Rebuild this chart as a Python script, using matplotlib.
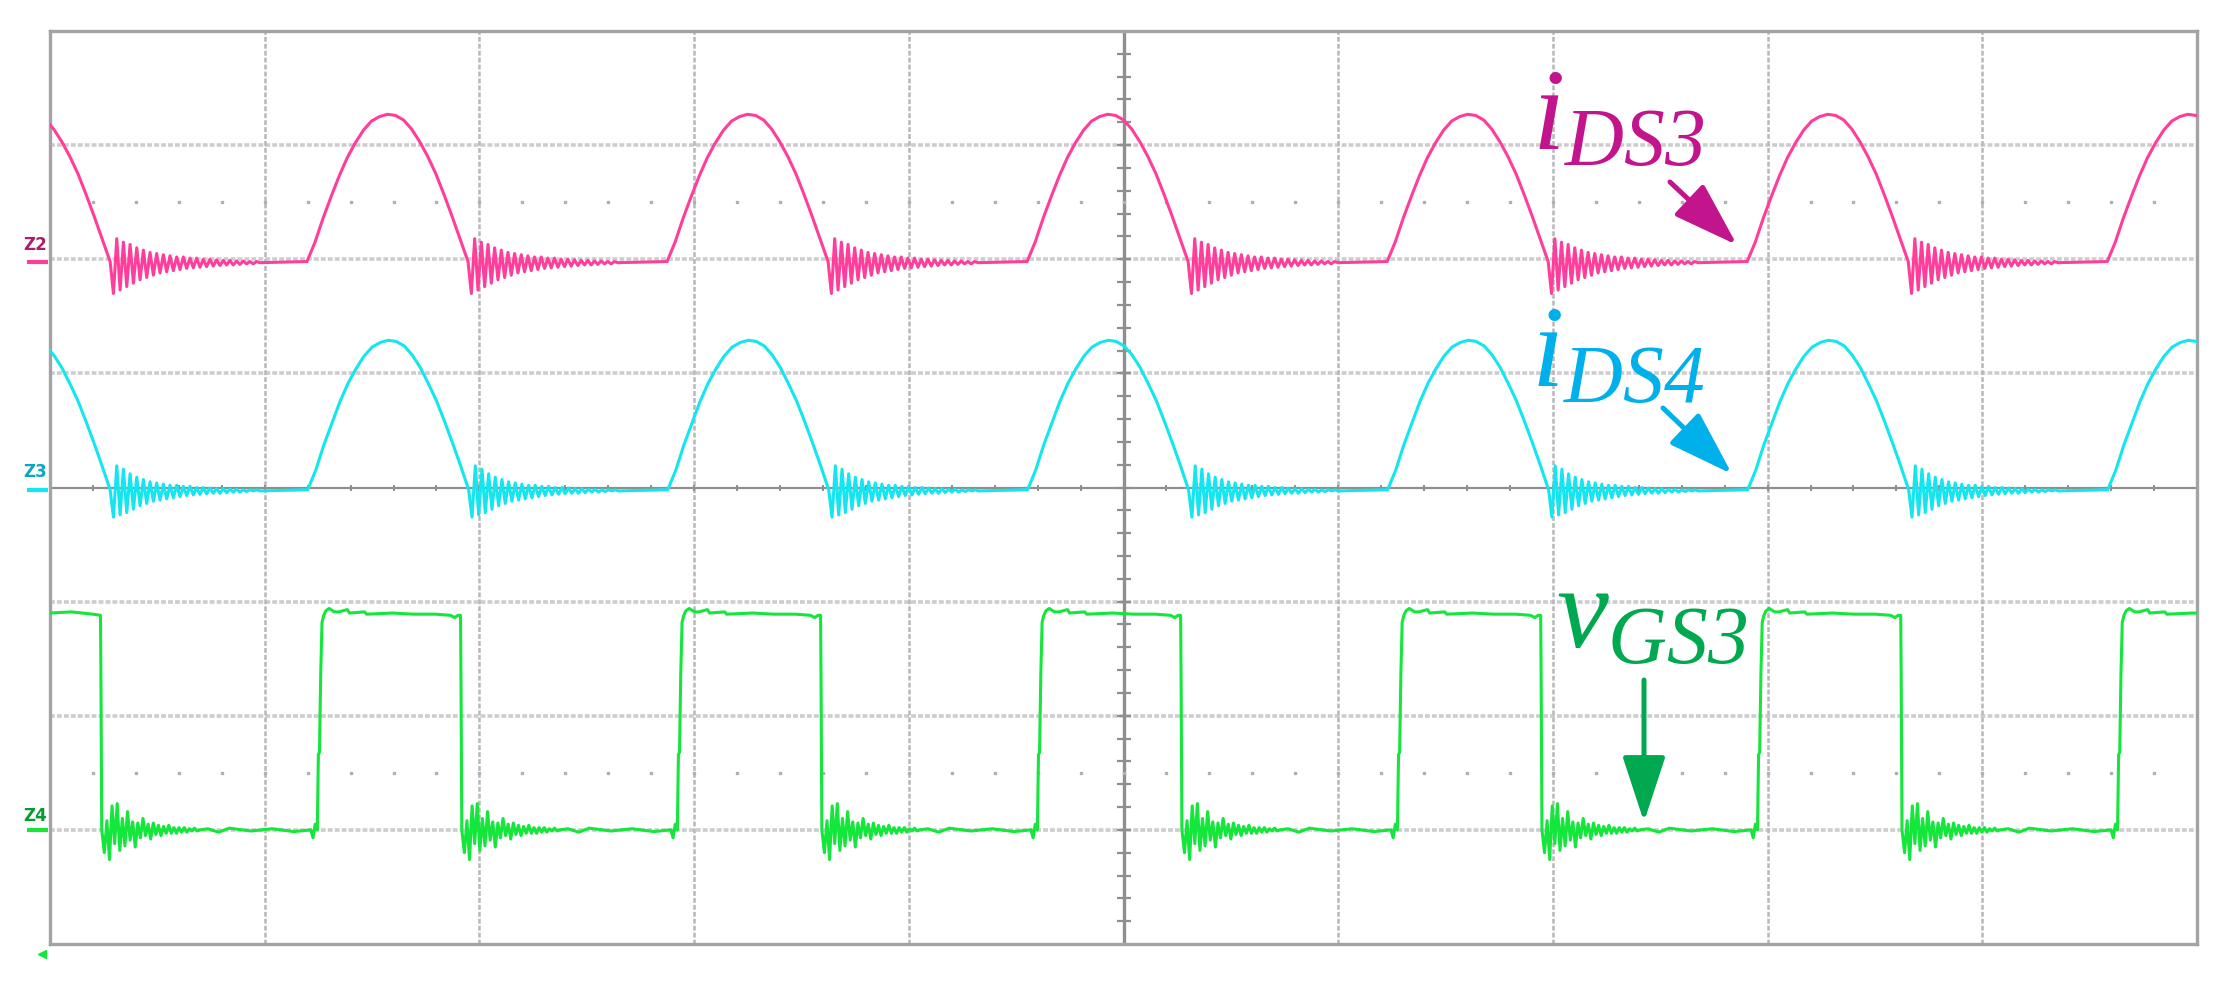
import numpy as np
import matplotlib
matplotlib.use("Agg")
import matplotlib.pyplot as plt

plt.rcParams['lines.scale_dashes'] = False
plt.rcParams['mathtext.fontset'] = 'custom'
plt.rcParams['mathtext.it'] = 'Liberation Serif:italic'
plt.rcParams['mathtext.rm'] = 'Liberation Serif:italic'

pink_hump_starts = [-0.47, 1.197, 2.874, 4.551, 6.228, 7.905, 9.582]
cyan_hump_starts = [-0.47, 1.200, 2.877, 4.553, 6.230, 7.907, 9.584]
hump_t = [0.0, 0.0375, 0.075, 0.1125, 0.15, 0.1875, 0.225, 0.2625, 0.30, 0.3375,
          0.375, 0.4125, 0.45, 0.4875, 0.525, 0.5625, 0.60, 0.6375, 0.675, 0.7125, 0.75]
pink_hump_y = [0.00, 0.17, 0.38, 0.57, 0.75, 0.91, 1.04, 1.15, 1.23, 1.27, 1.29,
               1.28, 1.24, 1.16, 1.05, 0.92, 0.77, 0.59, 0.40, 0.20, 0.00]
cyan_hump_y = [0.00, 0.17, 0.39, 0.58, 0.77, 0.93, 1.06, 1.17, 1.25, 1.29, 1.31,
               1.30, 1.26, 1.18, 1.07, 0.93, 0.78, 0.60, 0.41, 0.21, 0.00]
pink_ring = [-0.28, 0.20, -0.25, 0.17, -0.22, 0.15, -0.19, 0.12, -0.16, 0.10, -0.14, 0.08,
             -0.12, 0.07, -0.10, 0.06, -0.09, 0.05, -0.08, 0.04, -0.07, 0.04, -0.06, 0.03,
             -0.055, 0.03, -0.05, 0.02, -0.045, 0.02, -0.04, 0.015, -0.035, 0.01, -0.03, 0.01,
             -0.03, 0.005, -0.025, 0.005, -0.02, 0.0, -0.02, 0.0, -0.01]
cyan_ring = [-0.24, 0.21, -0.22, 0.18, -0.20, 0.14, -0.17, 0.11, -0.14, 0.09, -0.12, 0.07,
             -0.10, 0.06, -0.09, 0.05, -0.08, 0.04, -0.07, 0.04, -0.06, 0.03, -0.05, 0.03,
             -0.045, 0.02, -0.04, 0.02, -0.035, 0.015, -0.03, 0.01, -0.03, 0.01, -0.025, 0.005,
             -0.02, 0.005, -0.02, 0.0, -0.015, 0.0, -0.01, 0.0, -0.01]
ring_step = 0.0155
pink_base = 5.98
cyan_base = 3.98

green_fall_times = [0.235, 1.912, 3.589, 5.266, 6.943, 8.620]
green_rise_times = [1.245, 2.922, 4.599, 6.276, 7.953, 9.630]
green_low = 1.0
green_high = 2.9
green_rise_t = [-0.03, -0.02, -0.01, 0.0, 0.005, 0.010, 0.016, 0.022, 0.030, 0.040, 0.055, 0.08]
green_rise_y = [1.00, 0.93, 1.05, 1.00, 1.66, 1.68, 2.38, 2.82, 2.88, 2.92, 2.94, 2.91]
green_high_t = [0.10, 0.14, 0.15, 0.22, 0.23, 0.35, 0.45, 0.55, 0.62, 0.64, 0.655]
green_high_y = [2.91, 2.93, 2.90, 2.91, 2.89, 2.90, 2.89, 2.89, 2.88, 2.86, 2.88]
green_fall_t = [0.0, 0.002, 0.006]
green_fall_y = [2.88, 2.40, 1.00]
green_ring = [-0.20, 0.08, -0.26, 0.21, -0.12, 0.23, -0.18, 0.10, -0.14, 0.16, -0.09, 0.07,
              -0.15, 0.06, -0.07, 0.10, -0.05, 0.05, -0.08, 0.06, -0.04, 0.04, -0.05, 0.03,
              -0.03, 0.04, -0.03, 0.02, -0.03, 0.02, -0.02, 0.02, -0.02, 0.01, -0.01, 0.015,
              -0.01, 0.0]
green_ring_step = 0.012
green_low_t = [0.50, 0.55, 0.60, 0.70, 0.80, 0.90]
green_low_y = [1.01, 0.98, 1.015, 0.99, 1.01, 0.985]

channel_labels = ["Z2", "Z3", "Z4"]
label_texts = [r"$i_{\mathit{DS3}}$", r"$i_{\mathit{DS4}}$", r"$v_{\mathit{GS3}}$"]

# ---------------- colours ----------------
C_PINK, C_CYAN, C_GREEN = '#ff3d9a', '#14e6f0', '#14e63c'
L_PINK, L_CYAN, L_GREEN = '#c2148c', '#00b0ea', '#00a84f'
AXC = '#8f8f8f'

# ---------------- geometry ----------------
W, H = 2225, 981
PL, PR, PT, PB = 50, 2197, 31, 944

fig = plt.figure(figsize=(W / 100, H / 100), dpi=100)
ax = fig.add_axes([PL / W, 1 - PB / H, (PR - PL) / W, (PB - PT) / H])
ax.set_xlim(0, 10)
ax.set_ylim(0, 8)
ax.set_xticks([])
ax.set_yticks([])
for s in ax.spines.values():
    s.set_color('#a3a3a3')
    s.set_linewidth(2.4)


def px(xf, yf):
    return ((xf - PL) / (PR - PL) * 10.0, (PB - yf) / (PB - PT) * 8.0)


# grid
for yv in range(1, 8):
    if yv == 4:
        continue
    ax.axhline(yv, color='#cdcdcd', lw=2.6, linestyle=(0, (3.5, 1.5)), zorder=1)
for xv in range(1, 10):
    if xv == 5:
        continue
    ax.axvline(xv, color='#b8b8b8', lw=1.8, linestyle=(0, (3.5, 1.5)), zorder=1)
ax.axhline(4, color=AXC, lw=1.6, zorder=1)
ax.axvline(5, color=AXC, lw=2.4, zorder=1)
tx = np.arange(0.2, 10.0, 0.2)
ax.plot(tx, np.full_like(tx, 4.0), ls='none', marker='|', ms=5, mew=1.4, color=AXC, zorder=1)
ty = np.arange(0.2, 8.0, 0.2)
ax.plot(np.full_like(ty, 5.0), ty, ls='none', marker='_', ms=10, mew=1.6, color=AXC, zorder=1)
for yr in (1.5, 6.5):
    ax.plot(tx, np.full_like(tx, yr), ls='none', marker='s', ms=1.8, color='#b0b0b0', zorder=1)


# traces
def hump_trace(starts, ht, hy, ring, step, base):
    xs, ys = [], []
    dur = ht[-1]
    for s in starts:
        for t, y in zip(ht, hy):
            xs.append(s + t)
            ys.append(base + y)
        for k, d in enumerate(ring):
            xs.append(s + dur + (k + 1) * step)
            ys.append(base + d)
    return xs, ys


px_x, px_y = hump_trace(pink_hump_starts, hump_t, pink_hump_y, pink_ring, ring_step, pink_base)
cy_x, cy_y = hump_trace(cyan_hump_starts, hump_t, cyan_hump_y, cyan_ring, ring_step, cyan_base)

gx, gy = [0.0, 0.1, 0.2], [green_high, 2.91, 2.89]
for i, f in enumerate(green_fall_times):
    for t, y in zip(green_fall_t, green_fall_y):
        gx.append(f + t); gy.append(y)
    t0 = f + green_fall_t[-1]
    for k, d in enumerate(green_ring):
        gx.append(t0 + (k + 1) * green_ring_step); gy.append(green_low + d)
    for t, y in zip(green_low_t, green_low_y):
        gx.append(f + t); gy.append(y)
    if i < len(green_rise_times):
        r = green_rise_times[i]
        for t, y in zip(green_rise_t, green_rise_y):
            gx.append(r + t); gy.append(y)
        for t, y in zip(green_high_t, green_high_y):
            gx.append(r + t); gy.append(y)

ax.plot(px_x, px_y, color=C_PINK, lw=2.2, zorder=3)
ax.plot(cy_x, cy_y, color=C_CYAN, lw=2.2, zorder=3)
ax.plot(gx, gy, color=C_GREEN, lw=2.2, zorder=3)

# channel markers at left
for lab, base, tc, lc, ytxt in [(channel_labels[0], pink_base, '#a8206a', C_PINK, 245),
                                 (channel_labels[1], cyan_base, '#0aa8c0', C_CYAN, 472),
                                 (channel_labels[2], green_low, '#0a9a30', C_GREEN, 816)]:
    x0, _ = px(27, 0)
    x1, _ = px(48, 0)
    ax.plot([x0, x1], [base, base], color=lc, lw=3.0, clip_on=False, zorder=4,
            solid_capstyle='butt')
    xt, yt = px(23, ytxt)
    ax.text(xt, yt, lab, fontsize=12, fontweight='bold', color=tc, ha='left', va='center',
            clip_on=False, family='DejaVu Sans')
xg, yg = px(42, 954)
ax.plot([xg], [yg], marker='<', ms=6, color=C_GREEN, clip_on=False, zorder=4)

# labels with arrows
lab_specs = [
    (label_texts[0], L_PINK, (1532, 150), ((1670, 182), (1737, 245))),
    (label_texts[1], L_CYAN, (1531, 387), ((1663, 408), (1732, 474))),
    (label_texts[2], L_GREEN, (1556, 648), ((1644, 680), (1644, 822))),
]
for txt, col, pos, (pa, pb) in lab_specs:
    xm, ym = px(*pos)
    ax.text(xm, ym, txt, fontsize=84, color=col, ha='left', va='baseline', zorder=5)
    ax.annotate('', xy=px(*pb), xytext=px(*pa),
                arrowprops=dict(arrowstyle='-|>,head_length=2.9,head_width=0.95',
                                lw=3.6, color=col, shrinkA=0, shrinkB=0,
                                mutation_scale=14), zorder=5)

fig.savefig('out.png', dpi=100, facecolor='white')
